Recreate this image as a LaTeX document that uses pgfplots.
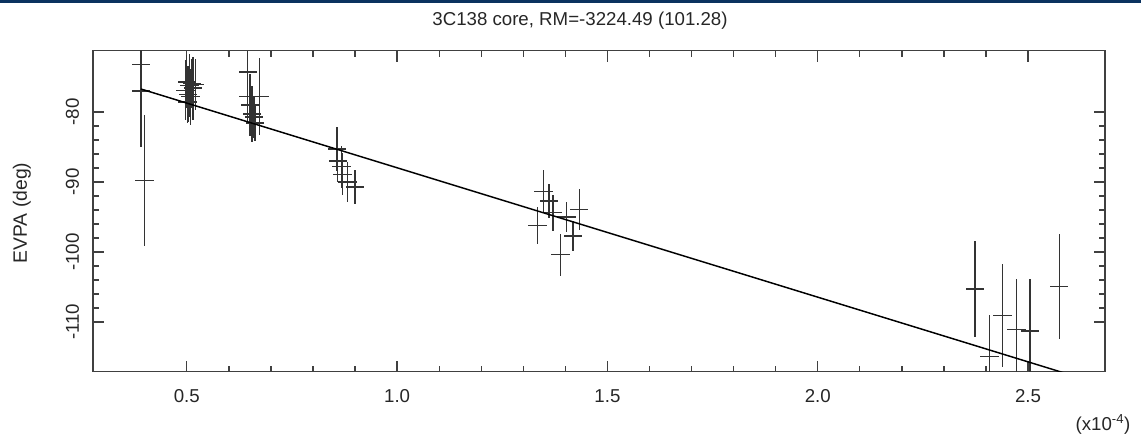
\documentclass[border=0pt]{standalone}
\usepackage{fontspec}
\setmainfont{Liberation Sans}
\usepackage{pgfplots}
\pgfplotsset{compat=1.18}
\usepackage{pgfplotstable}
\definecolor{hdr}{RGB}{10,50,95}
\pgfplotstableread{
x y ex ey
0.391 -73.2 0.022 3.0
0.391 -77.0 0.022 8.0
0.399 -89.8 0.022 9.35
0.497 -76.9 0.022 4.3
0.500 -75.7 0.022 3.8
0.503 -77.5 0.022 4.0
0.506 -76.2 0.022 4.5
0.509 -77.8 0.022 4.0
0.512 -75.9 0.022 3.5
0.515 -76.6 0.022 4.5
0.520 -76.1 0.022 3.6
0.502 -78.6 0.022 3.0
0.645 -74.3 0.022 3.0
0.645 -77.8 0.022 3.5
0.673 -77.8 0.022 5.5
0.655 -80.3 0.022 4.0
0.660 -80.7 0.022 3.0
0.662 -81.6 0.022 2.5
0.650 -79.0 0.022 4.4
0.857 -85.3 0.022 3.2
0.859 -87.0 0.022 3.0
0.868 -87.8 0.022 3.0
0.870 -88.9 0.022 3.0
0.882 -90.0 0.022 2.8
0.900 -90.7 0.022 2.4
1.348 -91.4 0.022 3.1
1.361 -92.7 0.022 2.4
1.371 -94.4 0.022 2.6
1.334 -96.2 0.022 2.6
1.403 -95.0 0.022 2.2
1.418 -97.7 0.022 2.1
1.389 -100.4 0.022 3.0
1.433 -93.9 0.022 2.9
2.374 -105.3 0.022 6.9
2.408 -114.95 0.022 6.0
2.439 -109.05 0.022 7.4
2.472 -111.1 0.022 7.2
2.505 -111.3 0.022 7.4
2.574 -104.9 0.022 7.5
}\data
\begin{document}
\begin{tikzpicture}[x=0.75pt,y=0.75pt]
\path[use as bounding box] (0,0) rectangle (1141,437);
\fill[hdr] (0,434) rectangle (1141,437);
\begin{axis}[
  at={(69.75pt,48.98pt)}, anchor=south west,
  scale only axis, width=759pt, height=240.75pt,
  xmin=0.277, xmax=2.683, ymin=-117.1, ymax=-71.25,
  xtick={0.5,1,1.5,2,2.5}, xticklabels={0.5,1.0,1.5,2.0,2.5},
  ytick={-110,-100,-90,-80}, yticklabels={-110,-100,-90,-80},
  minor x tick num=4, minor y tick num=4,
  major tick length=8.25pt, minor tick length=4.5pt,
  tick align=inside, tick pos=both,
  axis line style={black!75, line width=1.1pt},
  tick style={black!75, line width=1pt},
  ticklabel style={font=\fontsize{14}{16}\selectfont, text=black!85},
  xticklabel style={yshift=-18pt, anchor=center},
  yticklabel style={xshift=-15.4pt, rotate=90, anchor=center},
]
\addplot[draw=none, mark=none,
  error bars/.cd, x dir=both, x explicit, y dir=both, y explicit,
  error mark=none, error bar style={draw=black!80, line width=1pt}]
  table[x=x, y=y, x error=ex, y error=ey]{\data};
\addplot[black, line width=1.1pt] coordinates {(0.391,-76.72) (2.60,-117.54)};
\end{axis}
\node[font=\fontsize{14}{16}\selectfont, text=black!85] at (580,416.3) {3C138 core, RM=-3224.49 (101.28)};
\node[rotate=90, font=\fontsize{14.5}{16}\selectfont, text=black!85] at (22,224) {EVPA (deg)};
\node[font=\fontsize{14}{16}\selectfont, text=black!85] at (1103,13) {(x10\textsuperscript{-4})};
\end{tikzpicture}
\end{document}
